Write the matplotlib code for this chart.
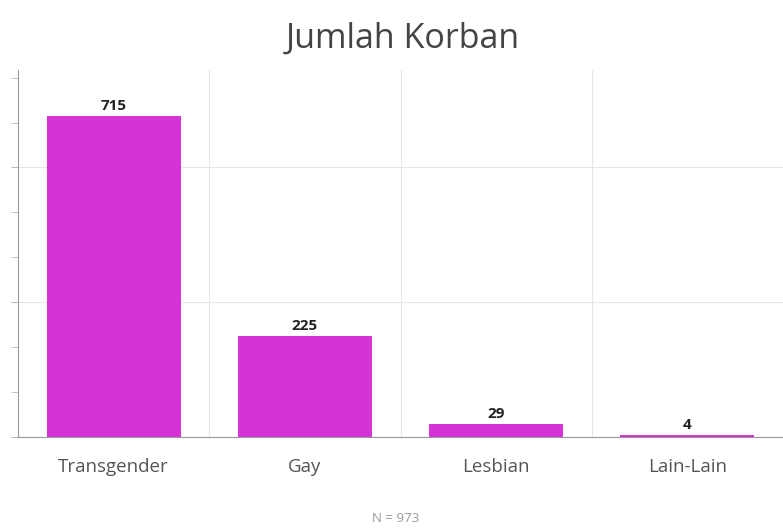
import matplotlib
matplotlib.use("Agg")
import matplotlib.pyplot as plt
from matplotlib.ticker import MultipleLocator

categories = ["Transgender", "Gay", "Lesbian", "Lain-Lain"]
values = [715, 225, 29, 4]
title = "Jumlah Korban"
note = "N = 973"

plt.rcParams['font.family'] = ['Open Sans', 'DejaVu Sans']

fig = plt.figure(figsize=(7.83, 5.30), dpi=100)
ax = fig.add_axes([0.023, 0.1755, 0.977, 0.6925])

x = list(range(len(categories)))
ax.bar(x, values, width=0.70, color="#D633D6", zorder=3)
for xi, v in zip(x, values):
    ax.text(xi, v + 6, str(v), ha="center", va="bottom", fontsize=11,
            fontweight="bold", color="#222222", zorder=4)

ax.set_xlim(-0.5, len(categories) - 0.5)
ax.set_ylim(0, 817)
ax.set_xticks(x)
ax.set_xticklabels(categories, fontsize=13.5, color="#555555")
ax.tick_params(axis="x", length=0, pad=15)
ax.set_xticks([i + 0.5 for i in x[:-1]], minor=True)
ax.tick_params(axis="x", which="minor", length=0)
ax.grid(axis="x", which="minor", color="#e6e6e6", lw=0.8, zorder=0)

ax.yaxis.set_major_locator(MultipleLocator(300))
ax.yaxis.set_minor_locator(MultipleLocator(100))
ax.set_yticklabels([])
ax.tick_params(axis="y", which="both", length=5, color="#bbbbbb", labelleft=False)
ax.grid(axis="y", which="major", color="#e6e6e6", lw=0.8, zorder=0)

for s in ["top", "right"]:
    ax.spines[s].set_visible(False)
ax.spines["left"].set_color("#999999")
ax.spines["bottom"].set_color("#999999")

fig.text(0.515, 0.928, title, ha="center", va="center", fontsize=24.5, color="#444444")
fig.text(0.505, 0.022, note, ha="center", va="center", fontsize=9.5, color="#999999")

fig.savefig("out.png", dpi=100)
